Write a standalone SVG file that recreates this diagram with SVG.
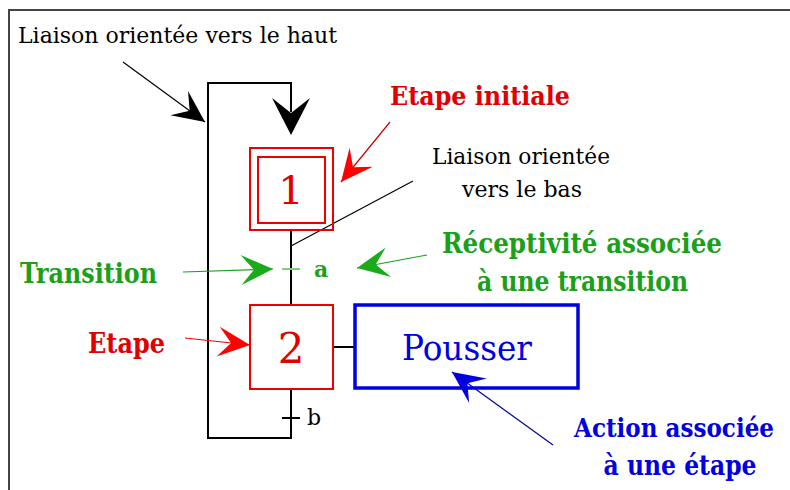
<svg xmlns="http://www.w3.org/2000/svg" width="790" height="490" viewBox="0 0 790 490" font-family="'DejaVu Serif', 'Liberation Serif', serif">
<style>
.blk{fill:#000}
.red{fill:#e00000}
.grn{fill:#1aa01a}
.blu{fill:#0000e0}
.b{font-weight:bold}
.ln{fill:none;stroke:#000;stroke-width:2}
</style>
<defs>
<marker id="ahK" markerUnits="userSpaceOnUse" markerWidth="40" markerHeight="40" viewBox="-34 -20 40 40" refX="0" refY="0" orient="auto"><path d="M0,0 L-32,-15 L-19,0 L-32,15 Z" fill="#000"/></marker>
<marker id="ahR" markerUnits="userSpaceOnUse" markerWidth="40" markerHeight="40" viewBox="-34 -20 40 40" refX="0" refY="0" orient="auto"><path d="M0,0 L-32,-15 L-19,0 L-32,15 Z" fill="#f00"/></marker>
<marker id="ahG" markerUnits="userSpaceOnUse" markerWidth="40" markerHeight="40" viewBox="-34 -20 40 40" refX="0" refY="0" orient="auto"><path d="M0,0 L-32,-15 L-19,0 L-32,15 Z" fill="#1aaa1a"/></marker>
<marker id="ahB" markerUnits="userSpaceOnUse" markerWidth="40" markerHeight="40" viewBox="-34 -20 40 40" refX="0" refY="0" orient="auto"><path d="M0,0 L-32,-15 L-19,0 L-32,15 Z" fill="#0000e0"/></marker>
</defs>
<rect width="790" height="490" fill="#fff"/>
<path d="M9,490 V10 H790" fill="none" stroke="#444" stroke-width="2"/>

<g id="connectors">
<path class="ln" d="M291,230 V305"/>
<path class="ln" d="M291,389 V438 H208 V83 H291 V112"/>
<path d="M291,135 L272,98 L291,113 L310,98 Z" fill="#000"/>
<path d="M282,269 H300" stroke="#7ccf7c" stroke-width="2"/>
<path d="M282,418 H300" stroke="#000" stroke-width="2"/>
<path class="ln" d="M333,347 H354"/>
<path d="M123,62 L205,122" stroke="#000" stroke-width="1.2" marker-end="url(#ahK)"/>
<path d="M390,122 L341,182" stroke="#c00" stroke-width="1.2" marker-end="url(#ahR)"/>
<path d="M413,181 L291,246" stroke="#000" stroke-width="1.2"/>
<path d="M427,255 L357,268" stroke="#1aa01a" stroke-width="1.2" marker-end="url(#ahG)"/>
<path d="M183,272 L273,269" stroke="#1aa01a" stroke-width="1.2" marker-end="url(#ahG)"/>
<path d="M185,338 L250,345" stroke="#e00" stroke-width="1.2" marker-end="url(#ahR)"/>
<path d="M553,445 L452,372" stroke="#0000a0" stroke-width="1.2" marker-end="url(#ahB)"/>
</g>

<g id="step1">
<rect x="250" y="148" width="83" height="82" fill="none" stroke="#e00" stroke-width="2"/>
<rect x="258" y="157" width="67" height="66" fill="none" stroke="#e00" stroke-width="2"/>
<text x="291" y="204" class="red" font-size="40" text-anchor="middle">1</text>
</g>

<g id="transition-a">
<text x="314" y="277" class="grn b" font-size="22">a</text>
</g>

<g id="step2">
<rect x="250" y="305" width="83" height="84" fill="none" stroke="#e00" stroke-width="2"/>
<text x="291" y="363" class="red" font-size="42" text-anchor="middle">2</text>
</g>

<g id="transition-b">
<text x="307" y="425" class="blk" font-size="22">b</text>
</g>

<g id="action">
<rect x="355" y="305" width="223" height="83" fill="none" stroke="#0000e0" stroke-width="3.5"/>
<text x="402" y="360" class="blu" font-size="36" textLength="130" lengthAdjust="spacingAndGlyphs">Pousser</text>
</g>

<g id="labels">
<text x="18" y="43" class="blk" font-size="23" textLength="319" lengthAdjust="spacingAndGlyphs">Liaison orientée vers le haut</text>
<text x="390" y="105" class="red b" font-size="26" textLength="180" lengthAdjust="spacingAndGlyphs">Etape initiale</text>
<text x="432" y="164" class="blk" font-size="22" textLength="178" lengthAdjust="spacingAndGlyphs">Liaison orientée</text>
<text x="462" y="197" class="blk" font-size="22" textLength="120" lengthAdjust="spacingAndGlyphs">vers le bas</text>
<text x="442" y="253" class="grn b" font-size="27" textLength="280" lengthAdjust="spacingAndGlyphs">Réceptivité associée</text>
<text x="477" y="291" class="grn b" font-size="27" textLength="211" lengthAdjust="spacingAndGlyphs">à une transition</text>
<text x="20" y="283" class="grn b" font-size="27" textLength="137" lengthAdjust="spacingAndGlyphs">Transition</text>
<text x="88" y="353" class="red b" font-size="27" textLength="77" lengthAdjust="spacingAndGlyphs">Etape</text>
<text x="674" y="437" class="blu b" font-size="26" text-anchor="middle" textLength="200" lengthAdjust="spacingAndGlyphs">Action associée</text>
<text x="680" y="475" class="blu b" font-size="27" text-anchor="middle" textLength="153" lengthAdjust="spacingAndGlyphs">à une étape</text>
</g>
</svg>
